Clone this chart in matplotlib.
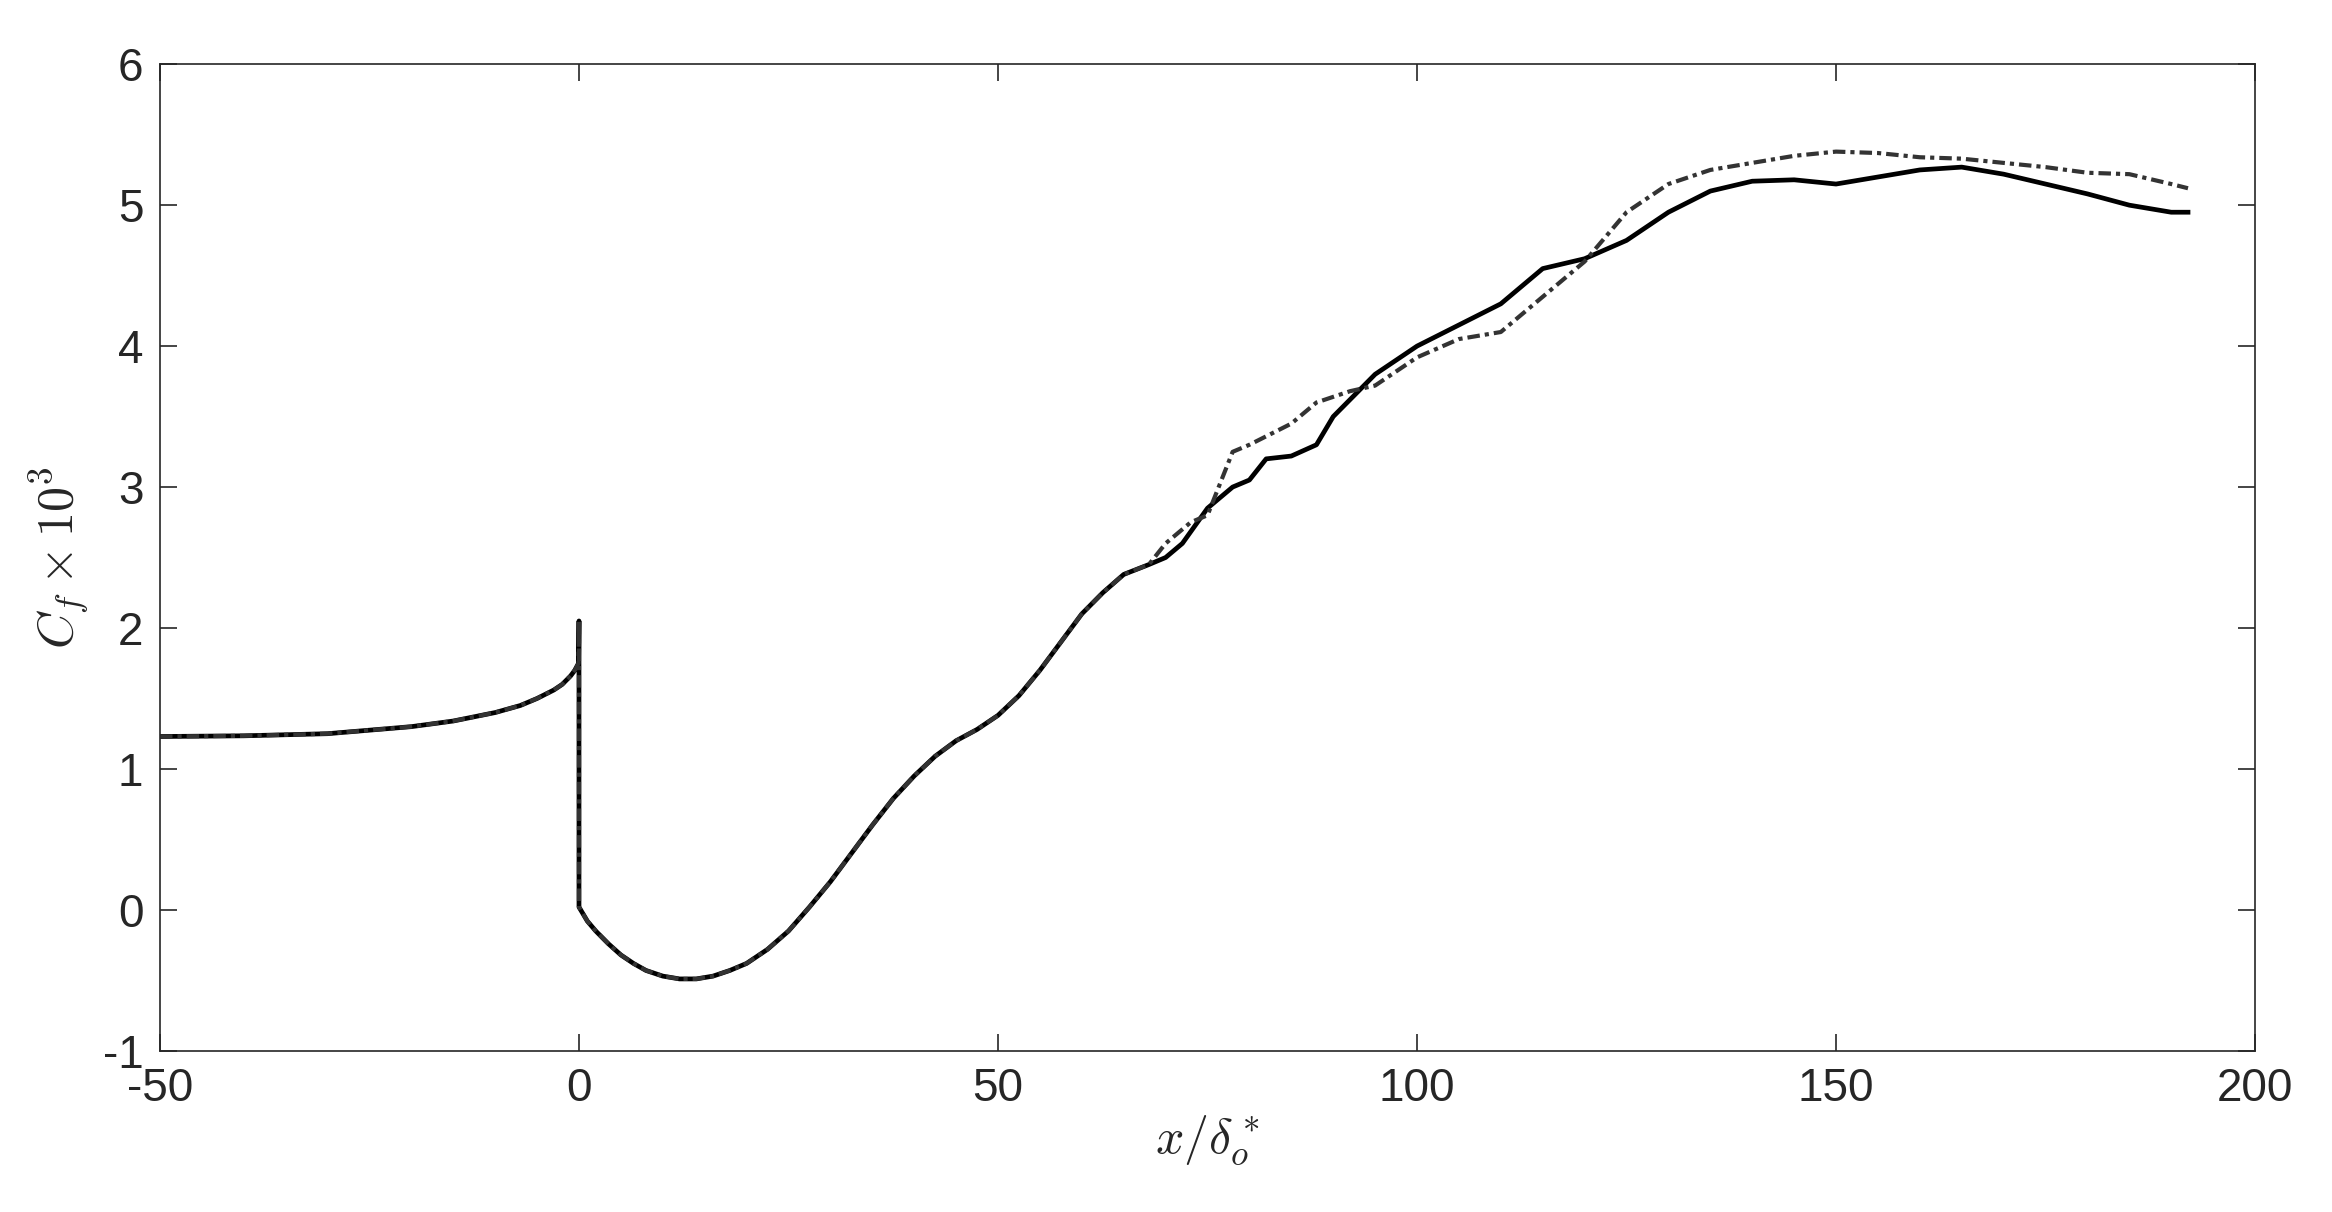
import matplotlib
matplotlib.use("Agg")
import matplotlib.pyplot as plt
import numpy as np

common_x = [-50,-40,-30,-20,-15,-10,-7,-5,-3,-2,-1,-0.5,-0.05,0,0,0.5,1,2,3.5,5,6.5,8,10,12,14,16,18,20,22.5,25,27.5,30,32.5,35,37.5,40,42.5,45,47.5,50,52.5,55,57.5,60,62.5,65,68]
common_y = [1.23,1.235,1.25,1.3,1.34,1.4,1.45,1.5,1.56,1.6,1.66,1.7,1.75,2.05,0.02,-0.03,-0.08,-0.15,-0.24,-0.32,-0.38,-0.43,-0.47,-0.49,-0.49,-0.47,-0.43,-0.38,-0.28,-0.15,0.02,0.2,0.4,0.6,0.79,0.95,1.09,1.2,1.28,1.38,1.52,1.7,1.9,2.1,2.25,2.38,2.45]
solid_x = [70,72,75,78,80,82,85,88,90,95,100,105,110,112,115,120,125,130,135,140,145,150,155,160,165,170,175,180,185,190,192]
solid_y = [2.5,2.6,2.85,3.0,3.05,3.2,3.22,3.3,3.5,3.8,4.0,4.15,4.3,4.4,4.55,4.62,4.75,4.95,5.1,5.17,5.18,5.15,5.2,5.25,5.27,5.22,5.15,5.08,5.0,4.95,4.95]
dash_x = [70,73,75,78,80,85,88,92,95,100,105,110,115,120,125,130,135,140,145,150,155,160,165,170,175,180,185,190,192]
dash_y = [2.6,2.75,2.8,3.25,3.3,3.45,3.6,3.68,3.72,3.92,4.05,4.1,4.35,4.6,4.95,5.15,5.25,5.3,5.35,5.38,5.37,5.34,5.33,5.3,5.27,5.23,5.22,5.15,5.12]

plt.rcParams['font.family'] = ['Liberation Sans', 'DejaVu Sans']
plt.rcParams['mathtext.fontset'] = 'cm'
plt.rcParams['axes.unicode_minus'] = False
fig = plt.figure(figsize=(23.32, 12.12), dpi=100)
ax = fig.add_axes([0.0686, 0.133, 0.8984, 0.814])
ax.plot(common_x + solid_x, common_y + solid_y, color='black', lw=3.4)
ax.plot(common_x + dash_x, common_y + dash_y, color='#333333', lw=3.0, ls=(0, (3, 1.2, 1, 1.2)))
ax.set_xlim(-50, 200)
ax.set_ylim(-1, 6)
ax.set_xticks([-50, 0, 50, 100, 150, 200])
ax.set_yticks(range(-1, 7))
ax.tick_params(direction='in', top=True, right=True, labelsize=33, length=12, width=1.2, colors='#262626', pad=12)
for s in ax.spines.values():
    s.set_linewidth(1.2)
    s.set_color('#262626')
ax.set_xlabel(r'$x/\delta_o^*$', fontsize=36, color='#262626', labelpad=2)
ax.set_ylabel(r'$C_f \times 10^3$', fontsize=36, color='#262626', labelpad=8)
fig.savefig('out.png', dpi=100)
